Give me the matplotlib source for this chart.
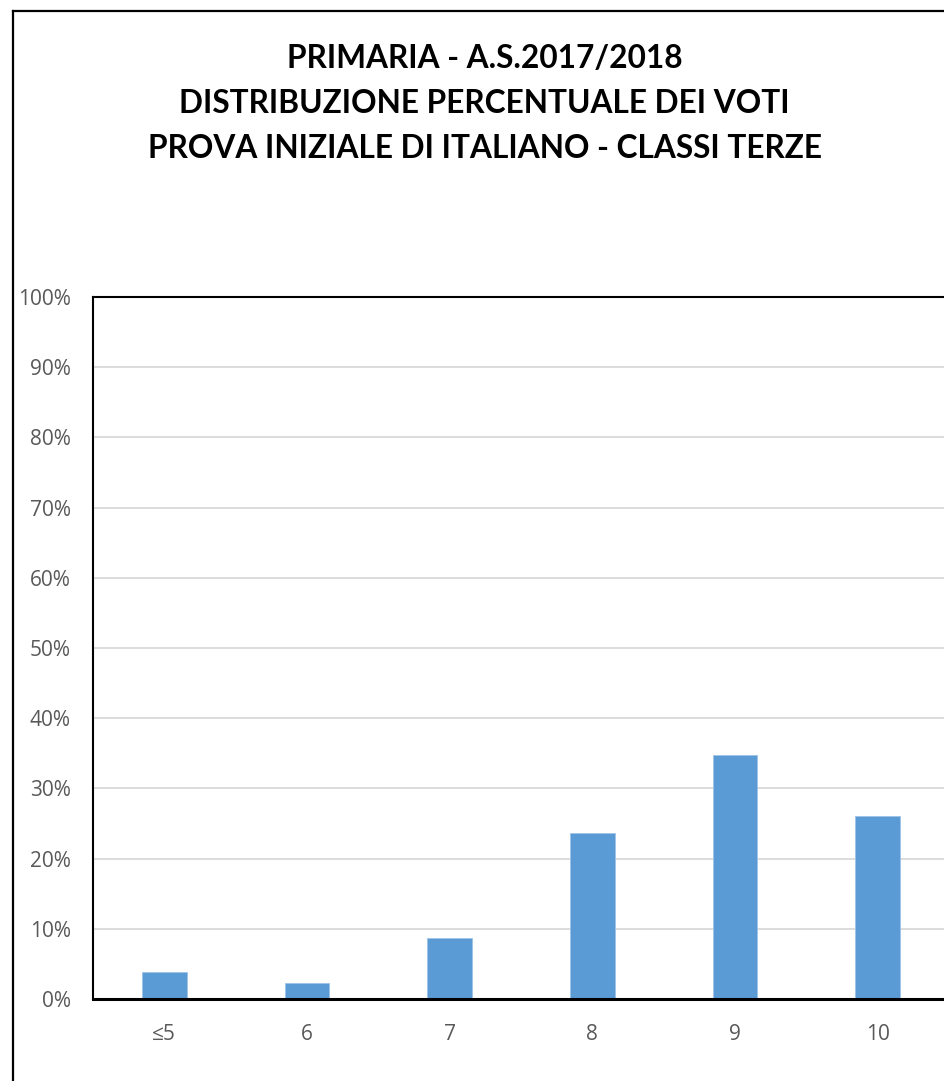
import matplotlib.pyplot as plt
from matplotlib.lines import Line2D
from matplotlib.ticker import FuncFormatter

# data
voti = ['≤5', '6', '7', '8', '9', '10']
percentuali = [3.85, 2.3, 8.65, 23.65, 34.8, 26.1]
titolo = ['PRIMARIA - A.S.2017/2018',
          'DISTRIBUZIONE PERCENTUALE DEI VOTI',
          'PROVA INIZIALE DI ITALIANO - CLASSI TERZE']

W, H = 944, 1081
fig = plt.figure(figsize=(W / 100, H / 100), dpi=100)

# plot area, right side runs past the image edge like in the original
ax = fig.add_axes([93 / W, (H - 999) / H, 856 / W, 702 / H])
x = range(len(voti))
ax.bar(x, percentuali, width=0.315, color='#5B9BD5', edgecolor='#9DC3E6',
       linewidth=0.6, zorder=3)

ax.set_xlim(-0.5, len(voti) - 0.5)
ax.set_ylim(0, 100)
ax.set_yticks(range(0, 101, 10))
ax.yaxis.set_major_formatter(FuncFormatter(lambda v, p: '%d%%' % v))
ax.set_xticks(list(x))
ax.set_xticklabels(voti)
ax.grid(axis='y', color='#D9D9D9', linewidth=1.3, zorder=0)
ax.tick_params(length=0, labelsize=15, colors='#595959')
ax.tick_params(axis='y', pad=16)
ax.tick_params(axis='x', pad=18)
for lab in ax.get_xticklabels() + ax.get_yticklabels():
    lab.set_family(['Open Sans', 'DejaVu Sans'])

for s in ax.spines.values():
    s.set_color('black')
    s.set_linewidth(1.5)
ax.spines['bottom'].set_linewidth(2.2)
ax.spines['bottom'].set_zorder(4)

# outer chart border (only top and left visible in the crop)
fig.add_artist(Line2D([12.5 / W, 12.5 / W], [0, (H - 10.5) / H],
                      color='black', linewidth=1.6))
fig.add_artist(Line2D([12.5 / W, 1], [(H - 10.5) / H, (H - 10.5) / H],
                      color='black', linewidth=1.6))

# title lines, one per baseline
for i, riga in enumerate(titolo):
    fig.text(484.5 / W, (H - 68 - 45 * i) / H, riga, ha='center', va='baseline',
             fontsize=22.8, fontweight='bold', family=['Lato', 'DejaVu Sans'],
             color='black')

fig.savefig('out.png', dpi=100)
